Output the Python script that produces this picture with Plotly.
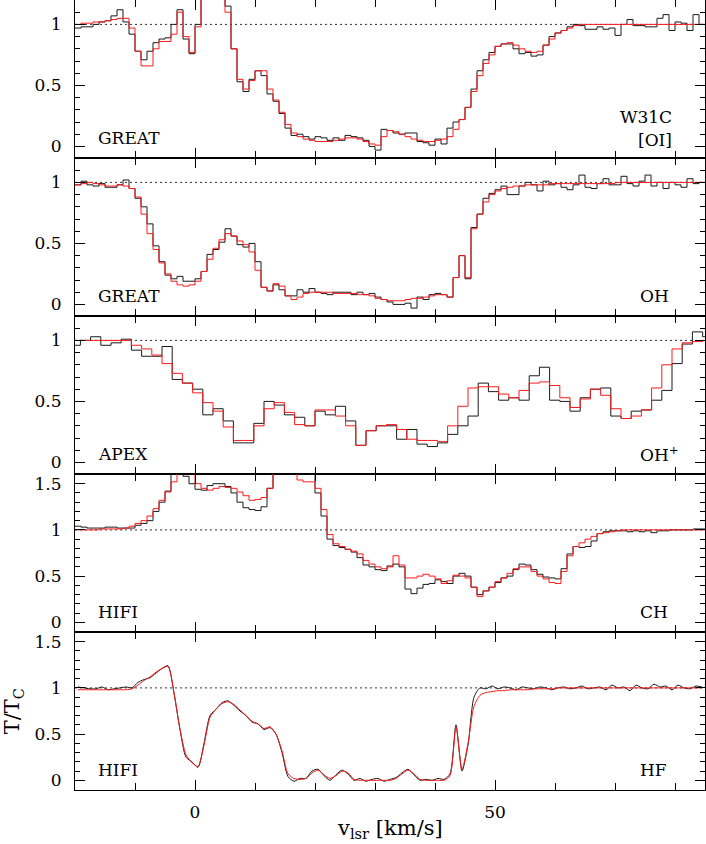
import numpy as np
import plotly.graph_objects as go
from plotly.subplots import make_subplots

# velocity channels (km/s): 1 km/s grid for GREAT / HIFI, 1.7 km/s for APEX
V0 = -20.0
DV = 1.0
V0_APEX = -20.8
DV_APEX = 1.7

# --- [OI] (GREAT) ---------------------------------------------------------
OI_OBS = [
    0.97, 0.98, 0.98, 1.00, 1.02, 1.03, 1.07, 1.12, 1.02, 0.92,
    0.78, 0.71, 0.78, 0.85, 0.88, 0.89, 1.00, 1.12, 0.88, 0.76,
    1.00, 1.40, 1.40, 1.40, 1.40, 1.15, 0.80, 0.53, 0.45, 0.55,
    0.62, 0.58, 0.43, 0.37, 0.27, 0.15, 0.09, 0.10, 0.08, 0.06,
    0.08, 0.07, 0.05, 0.07, 0.05, 0.09, 0.08, 0.07, 0.05, 0.00,
    -0.03, 0.14, 0.13, 0.11, 0.10, 0.11, 0.11, 0.04, 0.03, 0.01,
    0.06, 0.02, 0.15, 0.20, 0.22, 0.32, 0.47, 0.62, 0.71, 0.77,
    0.82, 0.84, 0.84, 0.80, 0.76, 0.77, 0.74, 0.75, 0.83, 0.90,
    0.93, 0.95, 0.98, 1.00, 0.99, 0.96, 0.96, 0.98, 0.96, 0.97,
    0.91, 1.00, 1.04, 0.99, 0.99, 0.98, 0.98, 1.05, 1.08, 0.95,
    1.02, 1.01, 0.95, 1.08, 1.00,
]
OI_FIT = [
    1.00, 1.01, 1.01, 1.02, 1.02, 1.03, 1.04, 1.05, 1.05, 0.97,
    0.78, 0.66, 0.66, 0.80, 0.86, 0.86, 0.92, 1.10, 0.90, 0.77,
    0.98, 1.40, 1.40, 1.40, 1.40, 1.10, 0.80, 0.55, 0.47, 0.54,
    0.62, 0.62, 0.47, 0.38, 0.28, 0.18, 0.11, 0.08, 0.06, 0.05,
    0.04, 0.04, 0.04, 0.05, 0.06, 0.07, 0.07, 0.06, 0.04, 0.02,
    0.01, 0.08, 0.13, 0.12, 0.10, 0.08, 0.06, 0.05, 0.04, 0.04,
    0.05, 0.06, 0.08, 0.14, 0.22, 0.32, 0.45, 0.58, 0.68, 0.75,
    0.82, 0.84, 0.85, 0.83, 0.80, 0.78, 0.77, 0.78, 0.83, 0.88,
    0.93, 0.95, 0.97, 0.99, 1.00, 1.00, 1.00, 1.00, 1.00, 1.00,
    1.00, 1.00, 1.00, 1.00, 1.00, 1.00, 1.00, 1.00, 1.00, 1.00,
    1.00, 1.00, 1.00, 1.00, 1.00,
]

# --- OH (GREAT) -----------------------------------------------------------
OH_OBS = [
    0.98, 1.01, 0.98, 0.97, 0.99, 0.96, 0.96, 0.98, 1.02, 0.95,
    0.87, 0.80, 0.66, 0.48, 0.35, 0.24, 0.21, 0.23, 0.19, 0.19,
    0.21, 0.27, 0.41, 0.45, 0.51, 0.62, 0.56, 0.49, 0.47, 0.50,
    0.35, 0.14, 0.11, 0.16, 0.12, 0.07, 0.07, 0.12, 0.10, 0.13,
    0.10, 0.09, 0.08, 0.10, 0.10, 0.10, 0.08, 0.10, 0.08, 0.09,
    0.06, 0.04, 0.02, 0.00, 0.00, 0.01, -0.03, 0.06, 0.04, 0.08,
    0.09, 0.08, 0.06, 0.22, 0.40, 0.21, 0.63, 0.74, 0.87, 0.91,
    0.94, 0.97, 0.90, 0.90, 0.97, 1.00, 0.98, 0.93, 1.01, 0.98,
    0.99, 0.96, 0.94, 0.98, 1.06, 0.96, 0.95, 0.99, 1.03, 0.98,
    0.98, 1.05, 0.99, 0.97, 1.01, 1.06, 0.97, 1.00, 0.95, 1.00,
    0.98, 0.96, 1.03, 0.99, 1.00,
]
OH_FIT = [
    0.98, 0.99, 1.00, 0.99, 0.98, 0.97, 0.97, 0.98, 0.97, 0.95,
    0.88, 0.74, 0.58, 0.45, 0.34, 0.25, 0.19, 0.16, 0.15, 0.16,
    0.19, 0.27, 0.37, 0.46, 0.53, 0.58, 0.56, 0.52, 0.49, 0.43,
    0.28, 0.14, 0.11, 0.17, 0.15, 0.07, 0.04, 0.06, 0.09, 0.10,
    0.10, 0.10, 0.10, 0.09, 0.09, 0.09, 0.09, 0.08, 0.08, 0.07,
    0.05, 0.04, 0.03, 0.03, 0.03, 0.04, 0.05, 0.05, 0.06, 0.07,
    0.08, 0.08, 0.06, 0.22, 0.40, 0.22, 0.62, 0.74, 0.84, 0.90,
    0.93, 0.95, 0.96, 0.97, 0.97, 0.98, 0.98, 0.98, 0.98, 0.99,
    0.99, 0.99, 0.99, 0.99, 0.99, 0.99, 0.99, 0.99, 0.99, 0.99,
    1.00, 1.00, 1.00, 1.00, 1.00, 1.00, 1.00, 1.00, 1.00, 1.00,
    1.00, 1.00, 1.00, 1.00, 1.00,
]

# --- OH+ (APEX) -----------------------------------------------------------
OHP_OBS = [
    0.96, 1.00, 1.03, 0.96, 0.98, 1.01, 0.92, 0.87, 0.87, 0.95,
    0.68, 0.65, 0.60, 0.39, 0.44, 0.34, 0.16, 0.16, 0.32, 0.50,
    0.47, 0.39, 0.37, 0.30, 0.42, 0.39, 0.46, 0.34, 0.14, 0.26,
    0.30, 0.30, 0.19, 0.27, 0.15, 0.13, 0.16, 0.23, 0.30, 0.38,
    0.65, 0.58, 0.51, 0.53, 0.51, 0.71, 0.78, 0.51, 0.50, 0.42,
    0.53, 0.60, 0.61, 0.38, 0.36, 0.42, 0.43, 0.51, 0.59, 0.81,
    0.97, 1.07, 1.03,
]
OHP_FIT = [
    1.00, 1.00, 1.00, 1.00, 1.00, 1.00, 0.96, 0.93, 0.88, 0.81,
    0.73, 0.65, 0.57, 0.49, 0.42, 0.29, 0.18, 0.18, 0.30, 0.44,
    0.49, 0.41, 0.31, 0.30, 0.43, 0.43, 0.38, 0.30, 0.14, 0.26,
    0.30, 0.31, 0.27, 0.19, 0.18, 0.18, 0.17, 0.30, 0.46, 0.61,
    0.62, 0.62, 0.56, 0.53, 0.59, 0.65, 0.66, 0.63, 0.53, 0.45,
    0.52, 0.60, 0.55, 0.44, 0.36, 0.38, 0.43, 0.61, 0.80, 0.93,
    0.98, 0.99, 1.00,
]

# --- CH (HIFI) ------------------------------------------------------------
CH_OBS = [
    1.04, 1.03, 1.02, 1.02, 1.02, 1.03, 1.03, 1.02, 1.02, 1.02,
    1.05, 1.07, 1.10, 1.20, 1.30, 1.42, 1.70, 1.70, 1.58, 1.50,
    1.44, 1.43, 1.48, 1.50, 1.50, 1.47, 1.40, 1.30, 1.24, 1.22,
    1.21, 1.25, 1.45, 1.80, 1.80, 1.80, 1.80, 1.80, 1.80, 1.60,
    1.40, 1.15, 0.90, 0.83, 0.81, 0.79, 0.76, 0.70, 0.62, 0.60,
    0.57, 0.56, 0.61, 0.63, 0.60, 0.36, 0.31, 0.37, 0.41, 0.42,
    0.46, 0.44, 0.42, 0.50, 0.53, 0.50, 0.38, 0.30, 0.34, 0.38,
    0.43, 0.48, 0.50, 0.57, 0.63, 0.62, 0.57, 0.52, 0.49, 0.48,
    0.47, 0.58, 0.74, 0.82, 0.81, 0.82, 0.88, 0.96, 0.98, 0.99,
    0.99, 0.99, 0.98, 0.99, 0.98, 0.99, 0.97, 0.99, 0.99, 1.00,
    1.00, 1.00, 1.00, 1.01, 1.01,
]
CH_FIT = [
    1.00, 1.00, 1.00, 1.00, 1.01, 1.01, 1.01, 1.01, 1.02, 1.04,
    1.07, 1.10, 1.15, 1.23, 1.32, 1.41, 1.52, 1.70, 1.70, 1.65,
    1.50, 1.45, 1.43, 1.45, 1.47, 1.46, 1.45, 1.41, 1.37, 1.32,
    1.33, 1.35, 1.45, 1.70, 1.80, 1.80, 1.80, 1.54, 1.52, 1.52,
    1.45, 1.22, 0.95, 0.85, 0.82, 0.79, 0.77, 0.74, 0.67, 0.63,
    0.60, 0.58, 0.60, 0.72, 0.62, 0.48, 0.48, 0.50, 0.52, 0.50,
    0.47, 0.42, 0.45, 0.51, 0.50, 0.48, 0.38, 0.28, 0.34, 0.38,
    0.44, 0.48, 0.53, 0.58, 0.60, 0.60, 0.55, 0.50, 0.47, 0.43,
    0.42, 0.55, 0.72, 0.82, 0.86, 0.90, 0.93, 0.96, 0.97, 0.98,
    0.99, 1.00, 1.00, 1.00, 1.00, 1.00, 1.00, 1.00, 1.00, 1.00,
    1.00, 1.00, 1.00, 1.00, 1.00,
]

# --- HF (HIFI) ------------------------------------------------------------
HF_OBS = [
    1.01, 1.00, 0.99, 0.99, 1.01, 0.98, 0.99, 1.00, 1.01, 1.00,
    1.06, 1.09, 1.11, 1.16, 1.21, 1.24, 0.94, 0.55, 0.25, 0.20,
    0.14, 0.40, 0.70, 0.77, 0.84, 0.86, 0.81, 0.75, 0.70, 0.63,
    0.61, 0.55, 0.57, 0.50, 0.30, 0.04, -0.01, 0.02, 0.02, 0.10,
    0.12, 0.05, 0.00, 0.06, 0.11, 0.07, 0.00, 0.02, -0.01, 0.01,
    0.02, -0.01, 0.01, 0.03, 0.08, 0.12, 0.06, 0.00, 0.01, 0.00,
    0.02, 0.01, 0.07, 0.60, 0.10, 0.38, 0.90, 1.00, 0.99, 1.02,
    0.99, 1.01, 1.00, 0.98, 1.01, 1.00, 0.99, 1.01, 1.00, 0.98,
    1.00, 1.01, 0.99, 1.00, 1.02, 0.99, 1.00, 1.01, 0.98, 1.03,
    1.00, 1.01, 0.97, 1.03, 1.00, 0.99, 1.04, 1.01, 1.02, 0.98,
    1.03, 1.00, 0.99, 1.02, 1.01,
]
HF_FIT = [
    0.98, 0.98, 0.98, 0.98, 0.98, 0.98, 0.98, 0.98, 0.98, 0.99,
    1.03, 1.08, 1.12, 1.17, 1.21, 1.23, 0.95, 0.55, 0.28, 0.19,
    0.15, 0.38, 0.68, 0.77, 0.83, 0.85, 0.82, 0.76, 0.70, 0.64,
    0.61, 0.56, 0.58, 0.50, 0.32, 0.07, 0.02, 0.01, 0.02, 0.08,
    0.11, 0.06, 0.02, 0.05, 0.10, 0.08, 0.01, 0.00, 0.00, 0.00,
    0.00, 0.00, 0.00, 0.02, 0.07, 0.11, 0.07, 0.01, 0.00, 0.00,
    0.00, 0.00, 0.05, 0.58, 0.12, 0.40, 0.80, 0.92, 0.95, 0.96,
    0.97, 0.97, 0.98, 0.98, 0.98, 0.98, 0.99, 0.99, 0.99, 0.99,
    1.00, 1.00, 1.00, 1.00, 1.00, 1.00, 1.00, 1.00, 1.00, 1.00,
    1.00, 1.00, 1.00, 1.00, 1.00, 1.00, 1.00, 1.00, 1.00, 1.00,
    1.00, 1.00, 1.00, 1.00, 1.00,
]

FONT = "DejaVu Serif"
TXT = dict(family=FONT, size=17, color="black")
TITLE = dict(family=FONT, size=21, color="black")

# (obs, fit, v0, dv, line shape, left label, right label, y-range, y ticks)
panels = [
    (OI_OBS, OI_FIT, V0, DV, "hv", "GREAT", None, [-0.095, 1.2], [0, 0.5, 1]),
    (OH_OBS, OH_FIT, V0, DV, "hv", "GREAT", "OH", [-0.095, 1.2], [0, 0.5, 1]),
    (OHP_OBS, OHP_FIT, V0_APEX, DV_APEX, "hv", "APEX", "OH<sup>+</sup>",
     [-0.095, 1.2], [0, 0.5, 1]),
    (CH_OBS, CH_FIT, V0, DV, "hv", "HIFI", "CH", [-0.105, 1.605],
     [0, 0.5, 1, 1.5]),
    (HF_OBS, HF_FIT, V0, DV, "spline", "HIFI", "HF", [-0.105, 1.605],
     [0, 0.5, 1, 1.5]),
]


def channels(vals, v0, dv, shape):
    """x/y for a spectrum: bin edges for a histogram, centres otherwise."""
    n = len(vals)
    if shape == "hv":
        return v0 + dv * np.arange(n + 1), list(vals) + [vals[-1]]
    return v0 + dv * (np.arange(n) + 0.5), list(vals)


fig = make_subplots(rows=5, cols=1, shared_xaxes=True, vertical_spacing=0)

for i, (obs, fit, v0, dv, shape, left, right, yr, yt) in enumerate(panels, 1):
    for vals, col in ((obs, "#1a1a1a"), (fit, "#ff1a1a")):
        x, y = channels(vals, v0, dv, shape)
        line = dict(color=col, width=1, shape=shape)
        if shape == "spline":
            line["smoothing"] = 0.7
        fig.add_trace(go.Scatter(x=x, y=y, mode="lines", showlegend=False,
                                 line=line), row=i, col=1)
    fig.add_hline(y=1, line=dict(color="#333", width=1, dash="2px,3px"),
                  layer="below", row=i, col=1)

    sfx = "" if i == 1 else str(i)
    fig.update_yaxes(range=yr, tickvals=yt, ticktext=[f"{t:g}" for t in yt],
                     ticks="inside", ticklen=10, tickcolor="black",
                     minor=dict(dtick=0.1, tick0=0, ticks="inside", ticklen=5,
                                tickcolor="black"),
                     showline=True, linecolor="black", linewidth=1,
                     mirror="ticks", showgrid=False, zeroline=False,
                     ticklabelstandoff=9, tickfont=TXT, row=i, col=1)
    fig.add_annotation(text=left, xref=f"x{sfx} domain", yref=f"y{sfx} domain",
                       x=0.033, y=0.127, xanchor="left", yanchor="middle",
                       showarrow=False, font=TXT)
    if right:
        fig.add_annotation(text=right, xref=f"x{sfx} domain",
                           yref=f"y{sfx} domain", x=0.894, y=0.127,
                           xanchor="left", yanchor="middle", showarrow=False,
                           font=TXT)

# source / line label in the top panel
fig.add_annotation(text="W31C", xref="x domain", yref="y domain", x=0.951,
                   y=0.26, xanchor="right", yanchor="middle", showarrow=False,
                   font=TXT)
fig.add_annotation(text="[OI]", xref="x domain", yref="y domain", x=0.951,
                   y=0.114, xanchor="right", yanchor="middle", showarrow=False,
                   font=TXT)

fig.update_xaxes(range=[-20, 85], tick0=0, dtick=50, ticks="inside",
                 ticklen=10, tickcolor="black",
                 minor=dict(tick0=0, dtick=10, ticks="inside", ticklen=7,
                            tickcolor="black"),
                 showline=True, linecolor="black", linewidth=1,
                 mirror="ticks", showgrid=False, zeroline=False,
                 ticklabelstandoff=7, tickfont=TXT)

# axis titles
fig.add_annotation(text="T/T<sub>C</sub>", xref="paper", yref="y5 domain",
                   x=-0.098, y=0.5, xanchor="center", yanchor="middle",
                   textangle=-90, showarrow=False, font=TITLE)
fig.add_annotation(text="v<sub>lsr</sub> [km/s]", xref="paper", yref="paper",
                   x=0.5, y=-0.0495, xanchor="center", yanchor="middle",
                   showarrow=False, font=TITLE)

fig.update_layout(width=706, height=844, plot_bgcolor="white",
                  paper_bgcolor="white", font=TXT,
                  margin=dict(l=75, r=1, t=0, b=54))
fig.write_html("out.html", config={"displayModeBar": False},
               post_script="document.body.style.margin='0';")
